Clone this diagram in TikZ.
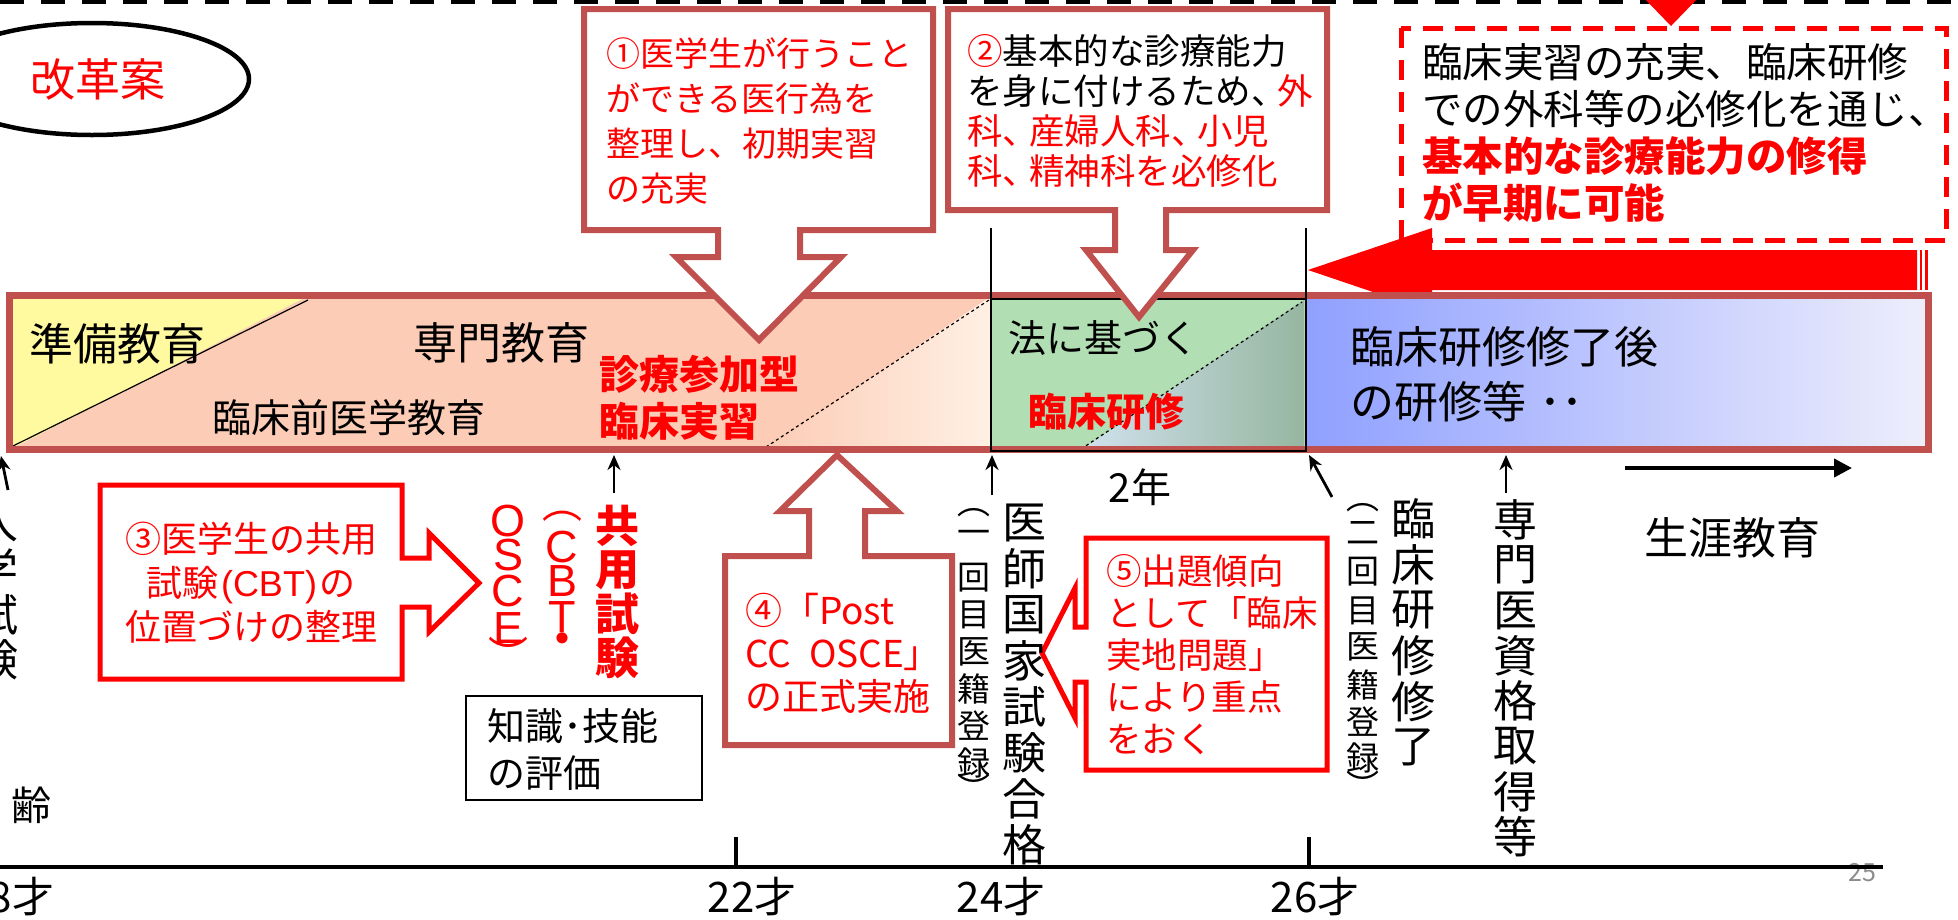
\documentclass[tikz,border=0pt]{standalone}
\usepackage{fontspec}
\setmainfont{Noto Sans CJK JP}
\newfontfamily\arial{Liberation Sans}
\usetikzlibrary{arrows.meta}
\definecolor{bord}{RGB}{192,80,77}
\definecolor{salmon}{RGB}{252,204,182}
\definecolor{yel}{RGB}{255,250,160}
\definecolor{orng}{RGB}{251,206,160}
\definecolor{peachlt}{RGB}{255,240,228}
\definecolor{grn}{RGB}{178,222,180}
\definecolor{gbl}{RGB}{208,226,238}
\definecolor{ggr}{RGB}{150,182,160}
\definecolor{blA}{RGB}{143,160,255}
\definecolor{blB}{RGB}{238,238,252}
\definecolor{pgray}{RGB}{140,140,140}
\newcommand\fsz[2]{\fontsize{#1pt}{#2pt}\selectfont}
\newcommand\nc{、\hspace{-0.25em}}
\tikzset{
  txt/.style={inner sep=0pt, outer sep=0pt, align=left, anchor=north west},
  ltxt/.style={inner sep=0pt, outer sep=0pt, anchor=west},
  ctxt/.style={inner sep=0pt, outer sep=0pt, anchor=center},
  callbrown/.style={draw=bord, line width=6pt, fill=white, line join=miter},
  callred/.style={draw=red, line width=5pt, fill=white, line join=miter},
  blackarrow/.style={-{Stealth[length=15pt,width=13pt]}, line width=2.8pt},
}
\begin{document}
\begin{tikzpicture}[x=1pt,y=-1pt]
\useasboundingbox (0,0) rectangle (1958,919);
\clip (0,0) rectangle (1958,919);
\fill[white] (0,0) rectangle (1958,919);

% top dashed line
\draw[line width=4pt, dash pattern=on 24pt off 17pt] (0,1.5) -- (1958,1.5);

% ellipse
\draw[line width=4.5pt] (92,79) ellipse [x radius=157, y radius=56];
\node[ctxt, text=red, font=\fsz{45}{50}] (kaikaku) at (98,79) {改革案};

% big red arrow (behind the bar)
\fill[red] (1432,250) -- (1917,250) -- (1917,290) -- (1432,290) -- (1432,312) -- (1308,270) -- (1432,228) -- cycle;
\fill[red] (1919.5,250) rectangle (1921.5,290);
\fill[red] (1925,250) rectangle (1927.5,290);

% main bar
\fill[salmon] (9,296) rectangle (991,450);
\fill[yel] (9,450) -- (9,296) -- (308,296) -- cycle;
\draw[line width=1.2pt] (13,446) -- (308,300);
\shade[left color=salmon, middle color=orng, right color=peachlt] (766,450) -- (991,296) -- (991,450) -- cycle;
\draw[dashed, line width=1.2pt] (766,447) -- (989,300);
\fill[grn] (991,296) rectangle (1306,450);
\shade[left color=gbl, right color=ggr] (1081,450) -- (1304,300) -- (1304,450) -- cycle;
\draw[dashed, line width=1.2pt] (1081,449) -- (1302,302);
\shade[left color=blA, right color=blB] (1306,296) rectangle (1928,450);
\draw[bord, line width=7pt] (9.5,295.5) rectangle (1928.5,449.5);
\draw[line width=2.5pt] (991,299) rectangle (1306,451);
\draw[line width=2.5pt] (991,228) -- (991,299);
\draw[line width=2.5pt] (1306,228) -- (1306,299);

% texts in bar
\node[ltxt, font=\fsz{44}{48}] (junbi) at (29,344) {準備教育};
\node[ltxt, font=\fsz{44}{48}] (senmonkyo) at (413,343) {専門教育};
\node[ltxt, font=\fsz{39}{44}] (rinshozen) at (212,418) {臨床前医学教育};
\node[txt, text=red, font=\fsz{40}{47}\bfseries] (shinryo) at (599,355) {診療参加型\\臨床実習};
\node[ltxt, font=\fsz{38}{42}] (hou) at (1008,338) {法に基づく};
\node[ltxt, text=red, font=\fsz{39}{44}\bfseries] (rinken) at (1028,412) {臨床研修};
\node[txt, font=\fsz{44}{55}] (shuryogo) at (1350,326) {臨床研修修了後\\の研修等\hspace{13pt}･･};

% callout 1
\draw[callbrown] (584,9) -- (933,9) -- (933,230) -- (800,230) -- (800,257) -- (841,257) -- (759,340) -- (676,257) -- (718,257) -- (718,230) -- (584,230) -- cycle;
\node[txt, text=red, font=\fsz{34}{45}] (c1) at (606,38) {①医学生が行うこと\\ができる医行為を\\整理し、初期実習\\の充実};

% callout 2
\draw[callbrown] (948,9) -- (1327,9) -- (1327,210) -- (1166,210) -- (1166,250) -- (1193,250) -- (1139,317) -- (1086,250) -- (1115,250) -- (1115,210) -- (948,210) -- cycle;
\node[txt, font=\fsz{35.5}{40}] (c2) at (967,34) {{\color{red}②}基本的な診療能力\\を身に付けるため\nc{\color{red}外}\\{\color{red}科\nc 産婦人科\nc 小児}\\{\color{red}科\nc 精神科を必修化}};

% red dashed box
\fill[red] (1641,-5) -- (1701,-5) -- (1671,26) -- cycle;
\draw[red, line width=5pt, dash pattern=on 20pt off 12pt] (1401,28) rectangle (1946,240);
\node[txt, font=\fsz{40.5}{47}] (summary) at (1422,43) {臨床実習の充実、臨床研修\\での外科等の必修化を通じ、\\{\color{red}\bfseries 基本的な診療能力の修得}\\{\color{red}\bfseries が早期に可能}};

% callout 3
\draw[callred] (100,485) -- (402,485) -- (402,558) -- (429,558) -- (429,533) -- (479,583) -- (429,632) -- (429,607) -- (402,607) -- (402,679) -- (100,679) -- cycle;
\node[txt, align=center, anchor=north, text=red, font=\fsz{36}{44}] (c3) at (251,522) {③医学生の共用\\試験{\arial\hspace{3pt}(CBT)\hspace{3pt}}の\\位置づけの整理};

% callout 4
\draw[callbrown] (725,556) -- (809,556) -- (809,511) -- (780,511) -- (837,455) -- (897,511) -- (865,511) -- (865,556) -- (952,556) -- (952,745) -- (725,745) -- cycle;
\node[txt, text=red, font=\fsz{37}{43}] (c4) at (745,593.5) {④「Post\\CC\hspace{18pt}OSCE」\\の正式実施};

% callout 5
\draw[callred] (1086,538) -- (1327,538) -- (1327,770) -- (1086,770) -- (1086,682) -- (1075,682) -- (1075,718) -- (1042,653) -- (1075,588) -- (1075,627) -- (1086,627) -- cycle;
\node[txt, text=red, font=\fsz{35.5}{42}] (c5) at (1106,554.5) {⑤出題傾向\\として「臨床\\実地問題」\\により重点\\をおく};

% knowledge box
\draw[line width=1.5pt] (466,696) rectangle (702,800);
\node[txt, font=\fsz{38}{47}] (chishiki) at (487,709) {知識･技能\\の評価};

% vertical texts (one node per character, centred on its measured position)
\foreach \ch [count=\i from 0] in {入,学,試,験}
  \node[ctxt, font=\fsz{44}{48}] (nyushi\i) at (-3,{523+45.7*\i}) {\ch};
\foreach \ch [count=\i from 0] in {共,用,試,験}
  \node[ctxt, text=red, font=\fsz{44}{48}\bfseries] (kyoyo\i) at (617,{526+44*\i}) {\ch};
\node[ctxt, text=red, font=\fsz{40}{44}] (cbt0) at (562,516) {︵};
\foreach \ch/\yy [count=\i] in {C/546.5, B/581, T/617}
  \node[ctxt, text=red, font=\fsz{45}{50}\arial] (cbt\i) at (562,\yy) {\ch};
\node[ctxt, text=red, font=\fsz{40}{44}\bfseries] (cbt4) at (562,643.5) {・};
\foreach \ch/\yy [count=\i from 0] in {O/521, S/555, C/591, E/628}
  \node[ctxt, text=red, font=\fsz{45}{50}\arial] (osce\i) at (508,\yy) {\ch};
\node[ctxt, text=red, font=\fsz{40}{44}] (osce4) at (508,653.5) {︶};
\foreach \ch/\yy [count=\i from 0] in {︵/513, 一/537, 回/578, 目/615, 医/652, 籍/689, 登/726, 録/763, ︶/788}
  \node[ctxt, font=\fsz{33}{36}] (regA\i) at (974,\yy) {\ch};
\foreach \ch [count=\i from 0] in {医,師,国,家,試,験,合,格}
  \node[ctxt, font=\fsz{44}{48}] (kokushi\i) at (1024,{523+46*\i}) {\ch};
\foreach \ch/\yy [count=\i from 0] in {︵/508, 二/533, 回/572, 目/611, 医/647, 籍/685, 登/722, 録/758, ︶/785}
  \node[ctxt, font=\fsz{33}{36}] (regB\i) at (1363,\yy) {\ch};
\foreach \ch [count=\i from 0] in {臨,床,研,修,修,了}
  \node[ctxt, font=\fsz{44}{48}] (rinsho\i) at (1413,{519+45.6*\i}) {\ch};
\foreach \ch [count=\i from 0] in {専,門,医,資,格,取,得,等}
  \node[ctxt, font=\fsz{44}{48}] (senmoni\i) at (1515,{520+45.3*\i}) {\ch};

% other labels
\node[ctxt, font=\fsz{40}{44}] (ninen) at (1140,487) {2年};
\node[ctxt, font=\fsz{44}{48}] (shogai) at (1732,538) {生涯教育};
\node[ctxt, font=\fsz{40}{44}] (rei) at (32,805) {齢};
\node[ctxt, text=pgray, font=\fsz{25}{28}] (page) at (1862,873) {25};

% arrows
\coordinate (a0s) at (8,490); \coordinate (a0e) at (1,456);
\coordinate (a1s) at (614,493); \coordinate (a1e) at (614,455);
\coordinate (a2s) at (992,495); \coordinate (a2e) at (992,455);
\coordinate (a3s) at (1332,497); \coordinate (a3e) at (1309,455);
\coordinate (a4s) at (1506,493); \coordinate (a4e) at (1506,455);
\draw[blackarrow] (a0s) -- (a0e);
\draw[blackarrow] (a1s) -- (a1e);
\draw[blackarrow] (a2s) -- (a2e);
\draw[blackarrow] (a3s) -- (a3e);
\draw[blackarrow] (a4s) -- (a4e);
\coordinate (lls) at (1625,468); \coordinate (lle) at (1852,468);
\draw[-{Triangle[length=18pt,width=18pt]}, line width=4pt] (lls) -- (lle);

% age axis
\coordinate (ax0) at (0,867); \coordinate (ax1) at (1883,867);
\draw[line width=4pt] (ax0) -- (ax1);
\coordinate (t22a) at (736,837); \coordinate (t22b) at (736,867);
\coordinate (t26a) at (1309,837); \coordinate (t26b) at (1309,867);
\draw[line width=4pt] (t22a) -- (t22b);
\draw[line width=4pt] (t26a) -- (t26b);
\node[ctxt, font=\fsz{42}{46}] (age18) at (10,897) {18才};
\node[ctxt, font=\fsz{42}{46}] (age22) at (752,897) {22才};
\node[ctxt, font=\fsz{42}{46}] (age24) at (1001,897) {24才};
\node[ctxt, font=\fsz{42}{46}] (age26) at (1315,897) {26才};
\end{tikzpicture}
\end{document}
